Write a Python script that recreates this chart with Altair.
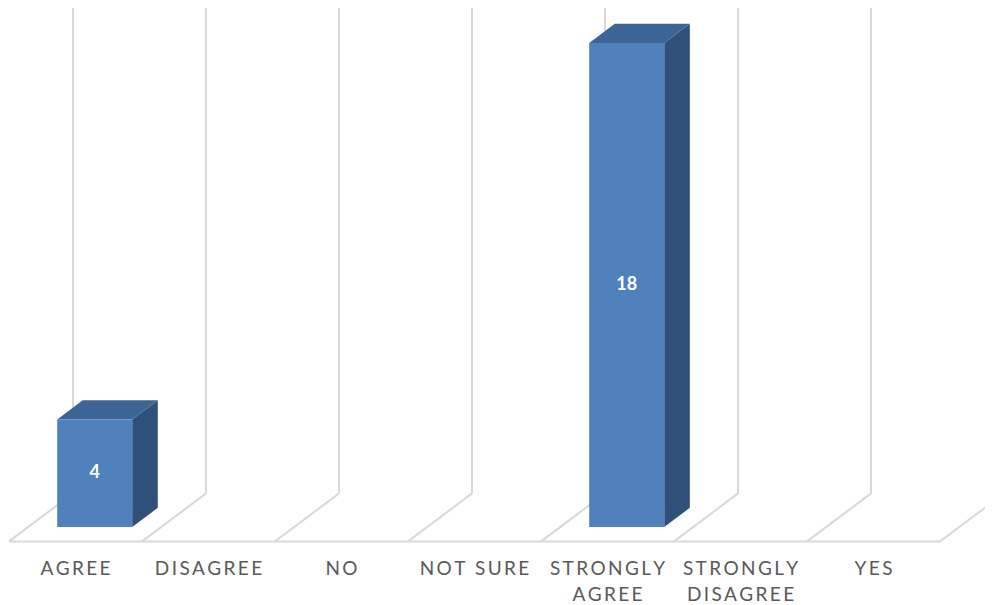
import altair as alt
import pandas as pd

# ---- data -------------------------------------------------------------
categories = ["AGREE", "DISAGREE", "NO", "NOT SURE",
              "STRONGLY AGREE", "STRONGLY DISAGREE", "YES"]
tick_labels = [["AGREE"], ["DISAGREE"], ["NO"], ["NOT SURE"],
               ["STRONGLY", "AGREE"], ["STRONGLY", "DISAGREE"], ["YES"]]
counts = [4, 0, 0, 0, 18, 0, 0]

# ---- geometry / style -------------------------------------------------
W, H = 977, 597
X_DOMAIN = [-0.0075, 7.338]      # category units
Y_DOMAIN = [-2.90, 19.30]        # value units
DX, DY = 0.481, 1.785            # oblique depth of the floor
D0, BD, BW = 0.30, 0.40, 0.564   # bar front depth, bar depth, bar width
Y0 = -D0 * DY                    # front edge of the floor
FRONT, TOP, SIDE = "#4F81BD", "#3C6494", "#2F5179"
GRID = "#D9D9D9"

xs = alt.Scale(domain=X_DOMAIN, nice=False, zero=False)
ys = alt.Scale(domain=Y_DOMAIN, nice=False, zero=False)
n = len(categories)

# floor / wall lines derived from category positions
rules = []
for i in range(n):
    rules.append(dict(x=i + DX, x2=i + DX, y=Y0 + DY, y2=Y_DOMAIN[1]))
for i in range(n + 1):
    rules.append(dict(x=i, x2=i + DX, y=Y0, y2=Y0 + DY))
rules.append(dict(x=0, x2=n, y=Y0, y2=Y0))
rules_df = pd.DataFrame(rules)

front, top, side, vlab = [], [], [], []
for i, (c, v) in enumerate(zip(categories, counts)):
    if not v:
        continue
    xl = i + D0 * DX + (1 - BW) / 2
    xr = xl + BW
    front.append(dict(cat=c, xl=xl, xr=xr, y=0, y2=v))
    top.append(dict(cat=c, yy=v, xa=xl, xb=xr))
    top.append(dict(cat=c, yy=v + BD * DY, xa=xl + BD * DX, xb=xr + BD * DX))
    side.append(dict(cat=c, xx=xr, ya=0, yb=v))
    side.append(dict(cat=c, xx=xr + BD * DX, ya=BD * DY, yb=v + BD * DY))
    vlab.append(dict(cat=c, x=(xl + xr) / 2, y=v / 2, t=str(v)))

SP = "\u2009"
def spaced(line):
    return (SP + "\u00a0" + SP).join(SP.join(w) for w in line.split(" "))

labels_df = pd.DataFrame([
    dict(x=i + 0.5, y=Y0, t="\n".join(spaced(l) for l in lines))
    for i, lines in enumerate(tick_labels)
])

grid = alt.Chart(rules_df).mark_rule(color=GRID, strokeWidth=2).encode(
    x=alt.X("x:Q", scale=xs, axis=None), x2="x2:Q",
    y=alt.Y("y:Q", scale=ys, axis=None), y2="y2:Q")

front_c = alt.Chart(pd.DataFrame(front)).mark_rect(color=FRONT).encode(
    x=alt.X("xl:Q", scale=xs, axis=None), x2="xr:Q",
    y=alt.Y("y:Q", scale=ys, axis=None), y2="y2:Q")

top_c = alt.Chart(pd.DataFrame(top)).mark_area(color=TOP, orient="horizontal").encode(
    y=alt.Y("yy:Q", scale=ys, axis=None),
    x=alt.X("xa:Q", scale=xs, axis=None), x2="xb:Q",
    detail="cat:N")

side_c = alt.Chart(pd.DataFrame(side)).mark_area(color=SIDE, orient="vertical").encode(
    x=alt.X("xx:Q", scale=xs, axis=None),
    y=alt.Y("ya:Q", scale=ys, axis=None), y2="yb:Q",
    detail="cat:N")

vals = alt.Chart(pd.DataFrame(vlab)).mark_text(
    color="white", font="Lato", fontWeight="bold", fontSize=18,
    baseline="middle", align="center").encode(
    x=alt.X("x:Q", scale=xs, axis=None),
    y=alt.Y("y:Q", scale=ys, axis=None), text="t:N")

cats = alt.Chart(labels_df).mark_text(
    color="#595959", font="Lato", fontSize=19, align="center",
    baseline="alphabetic", dy=34, lineBreak="\n", lineHeight=26).encode(
    x=alt.X("x:Q", scale=xs, axis=None),
    y=alt.Y("y:Q", scale=ys, axis=None), text="t:N")

chart = alt.layer(grid, side_c, top_c, front_c, vals, cats).properties(
    width=W, height=H, padding=0,
    autosize=alt.AutoSizeParams(type="none"),
    background="white",
).configure_view(stroke=None)

chart.save("out.html", embed_options={"renderer": "svg", "actions": False})
